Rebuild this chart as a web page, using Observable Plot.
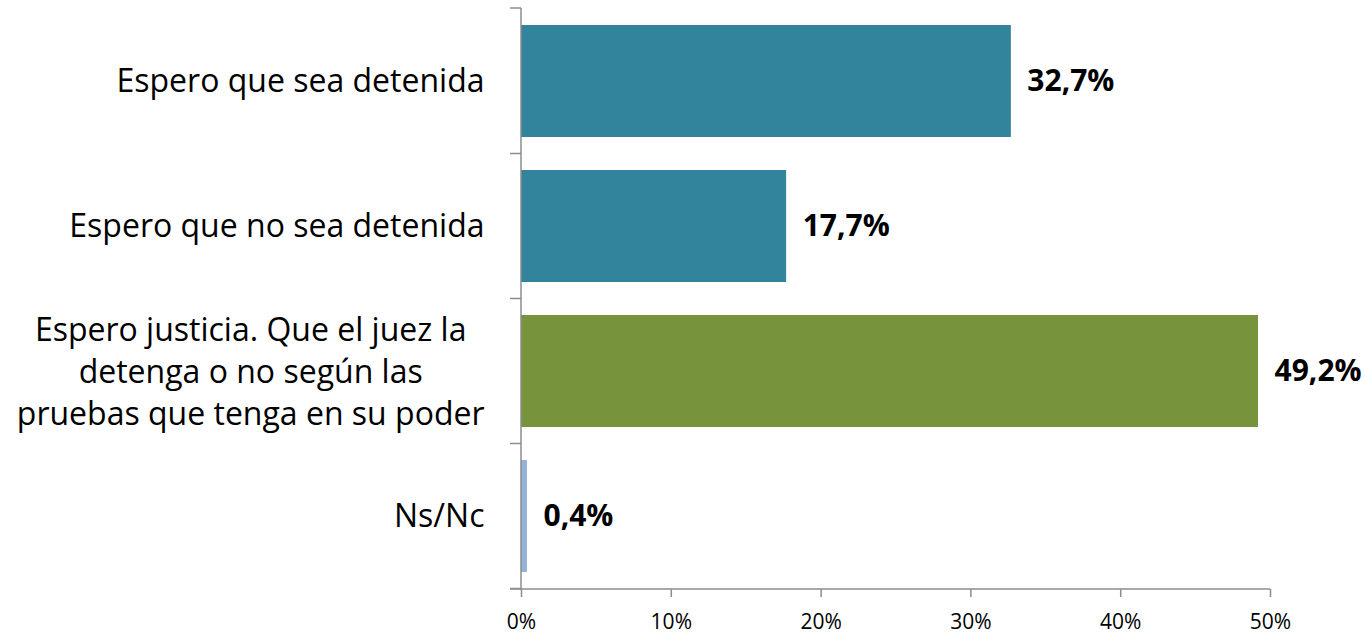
<!DOCTYPE html>
<html><head><meta charset="utf-8">
<script src="https://cdn.jsdelivr.net/npm/d3@7"></script>
<script src="https://cdn.jsdelivr.net/npm/@observablehq/plot@0.6"></script>
<style>html,body{margin:0;padding:0;background:#fff}svg{display:block}</style>
</head><body><div id="chart"></div>
<script>
const categories = [
  "Espero que sea detenida",
  "Espero que no sea detenida",
  "Espero justicia. Que el juez la\ndetenga o no según las\npruebas que tenga en su poder",
  "Ns/Nc"
];
const values = [32.7, 17.7, 49.2, 0.4];
const valueLabels = ["32,7%", "17,7%", "49,2%", "0,4%"];
const barColors = ["#31849B", "#31849B", "#77933C", "#95B3D7"];
const xTicks = [0, 10, 20, 30, 40, 50];

const data = categories.map((c, i) => ({category: c, value: values[i], label: valueLabels[i], color: barColors[i]}));

const FONT = "'Open Sans', sans-serif";
const CAT_SIZE = 32;
const AXIS_GRAY = "#8c8c8c";

function textWidth(s, size, weight = "normal") {
  const ctx = document.createElement("canvas").getContext("2d");
  ctx.font = `${weight} ${size}px ${FONT}`;
  return ctx.measureText(s).width;
}

const single = data.filter(d => !d.category.includes("\n"));
const multi = data.filter(d => d.category.includes("\n"));
const labelGap = 37;

function axesLines(index, scales, values, dims) {
  const ns = "http://www.w3.org/2000/svg";
  const g = document.createElementNS(ns, "g");
  const y = scales.y;
  const bw = y.bandwidth ? y.bandwidth() : 0;
  const step = y.step ? y.step() : bw;
  const x0 = dims.marginLeft;
  const x1 = dims.width - dims.marginRight;
  const top = dims.marginTop;
  const bottom = dims.height - dims.marginBottom;
  const add = (xa, ya, xb, yb) => {
    const l = document.createElementNS(ns, "line");
    l.setAttribute("x1", xa); l.setAttribute("y1", ya);
    l.setAttribute("x2", xb); l.setAttribute("y2", yb);
    l.setAttribute("stroke", AXIS_GRAY); l.setAttribute("stroke-width", 1.5);
    g.appendChild(l);
  };
  add(x0, top, x0, bottom + 1);
  const bounds = [top];
  categories.forEach(c => bounds.push(y(c) + bw + (step - bw) / 2));
  bounds.forEach(b => add(x0 - 11, b, x0, b));
  add(x0 - 11, bottom, x1, bottom);
  return g;
}

const multiW = multi.length ? Math.max(...multi[0].category.split("\n").map(s => textWidth(s, CAT_SIZE))) : 0;

const chart = Plot.plot({
  width: 1365,
  height: 634,
  marginLeft: 521,
  marginRight: 95,
  marginTop: 8,
  marginBottom: 45,
  style: {fontFamily: FONT, background: "transparent", color: "#000"},
  x: {domain: [0, 50], axis: null},
  y: {domain: categories, paddingInner: 0.227, paddingOuter: 0.1135, axis: null},
  marks: [
    Plot.barX(data, {x: "value", y: "category", fill: "color"}),
    Plot.text(data, {x: "value", y: "category", text: "label", textAnchor: "start", dx: 16, fontWeight: "bold", fontSize: 30, fill: "#000"}),
    Plot.text(single, {y: "category", text: "category", frameAnchor: "left", textAnchor: "end", dx: -labelGap, fontSize: CAT_SIZE, fill: "#000"}),
    Plot.text(multi, {y: "category", text: "category", frameAnchor: "left", textAnchor: "middle", dx: -labelGap - multiW / 2, dy: -2, fontSize: CAT_SIZE, lineHeight: 1.32, fill: "#000"}),
    Plot.axisX({ticks: xTicks, tickFormat: d => d + "%", tickSize: 8, tickPadding: 17, fontSize: 21, stroke: AXIS_GRAY, fill: "#000", strokeWidth: 1.5, label: null}),
    axesLines
  ]
});
document.getElementById("chart").appendChild(chart);
</script>
</body></html>
